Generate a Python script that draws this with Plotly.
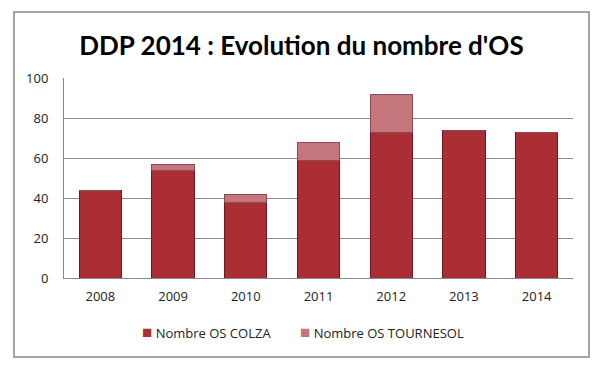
import plotly.graph_objects as go

years = ["2008", "2009", "2010", "2011", "2012", "2013", "2014"]
colza = [44, 54, 38, 59, 73, 74, 73]
tournesol = [0, 3, 4, 9, 19, 0, 0]
y_ticks = [0, 20, 40, 60, 80, 100]
series_names = ["Nombre OS COLZA", "Nombre OS TOURNESOL"]
series_colors = ["#ab2e35", "#c4767c"]
series_lines = ["#6e1a1f", "#8a4a50"]

fig = go.Figure()
for name, vals, col, lc in zip(series_names, [colza, tournesol], series_colors, series_lines):
    fig.add_trace(go.Bar(x=years, y=vals, name=name,
                         marker=dict(color=col, line=dict(color=lc, width=1))))

# legend drawn as text (compact Excel-like legend)
legend_x = [(140 - 64) / 509, (298 - 64) / 509]
annotations = []
for name, col, lx in zip(series_names, series_colors, legend_x):
    annotations.append(dict(
        xref="paper", yref="paper", x=lx, y=-0.265, xanchor="left", yanchor="middle",
        showarrow=False,
        text=f'<span style="color:{col};font-size:17px">■</span> {name}',
        font=dict(size=13, color="#222")))

fig.update_layout(
    barmode="stack",
    bargap=0.42,
    width=603, height=366,
    margin=dict(l=64, r=30, t=78, b=88),
    paper_bgcolor="white", plot_bgcolor="white",
    font=dict(family="Open Sans, Liberation Sans, sans-serif", size=13, color="#222"),
    title=dict(text="<b>DDP 2014 : Evolution du nombre d'OS</b>",
               x=0.5, xanchor="center", y=0.875, yanchor="middle",
               font=dict(family="Lato, Open Sans, sans-serif", size=26, color="#000")),
    showlegend=False,
    annotations=annotations,
    xaxis=dict(showgrid=False, showline=True, linecolor="#888", linewidth=1,
               ticks="", tickfont=dict(size=13), ticklabelstandoff=6),
    yaxis=dict(range=[0, 100], tickvals=y_ticks, showgrid=True, gridcolor="#8c8c8c",
               gridwidth=1, showline=True, linecolor="#888", linewidth=1,
               ticks="", tickfont=dict(size=13), zeroline=False, ticklabelstandoff=12),
    shapes=[dict(type="rect", xref="paper", yref="paper",
                 x0=(14 - 64) / 509, x1=(589 - 64) / 509,
                 y0=(278 - 357) / 200, y1=(278 - 12) / 200,
                 line=dict(color="#888", width=1.5))],
)

fig.write_html("out.html", config={"displayModeBar": False},
               post_script="document.body.style.margin='0';document.body.style.padding='0';")
